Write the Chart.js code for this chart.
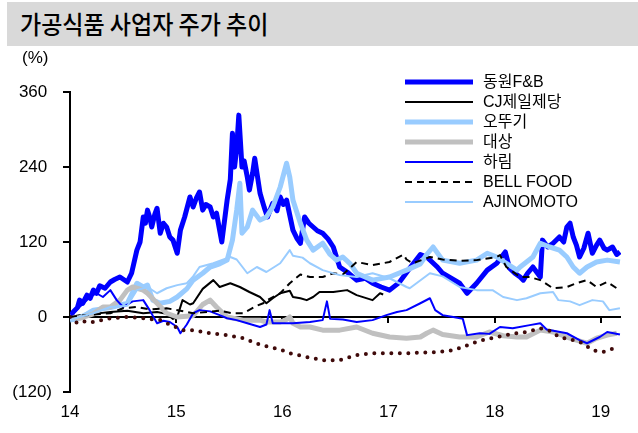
<!DOCTYPE html>
<html><head><meta charset="utf-8">
<script src="https://cdn.jsdelivr.net/npm/chart.js@4.4.1/dist/chart.umd.min.js"></script>
<style>
html,body{margin:0;padding:0;background:#fff;width:638px;height:433px;overflow:hidden;position:relative;font-family:'Liberation Sans',Arial,sans-serif;}
#c{position:absolute;left:0;top:0;}
#title{position:absolute;left:7px;top:2px;width:631px;height:44px;background:#d9d9d9;}
#title span{position:absolute;left:13px;top:5px;font-size:25px;font-weight:500;font-family:'Noto Sans CJK KR';color:#000;white-space:nowrap;line-height:32px;transform:scaleX(0.92);transform-origin:0 50%;}
#unit{position:absolute;left:22px;top:48px;font-size:17px;font-family:'Liberation Sans';color:#000;}
#legend{position:absolute;left:405px;top:72px;}
.row{height:20px;display:flex;align-items:center;}
.row svg{width:68px;height:8px;margin-right:10px;display:block;}
.row span{font-size:16px;font-family:'Liberation Sans','Noto Sans CJK KR';color:#000;white-space:nowrap;line-height:20px;}
</style></head>
<body>
<canvas id="c" width="638" height="433"></canvas>
<div id="title"><span>가공식품 사업자 주가 추이</span></div>
<div id="unit">(%)</div>
<div id="legend"></div>
<script>
// ---- data (x = year, 14 = 2014) ----
const xTickValues = [14, 15, 16, 17, 18, 19];
const yTickValues = [-120, 0, 120, 240, 360];

const dwYears = [14.00,14.03,14.07,14.09,14.12,14.16,14.19,14.22,14.25,14.28,14.33,14.38,14.42,14.47,14.54,14.58,14.63,14.66,14.69,14.71,14.73,14.75,14.77,14.80,14.82,14.85,14.88,14.91,14.94,14.97,15.01,15.04,15.08,15.13,15.16,15.19,15.22,15.25,15.28,15.32,15.35,15.38,15.43,15.48,15.51,15.53,15.55,15.57,15.59,15.62,15.64,15.67,15.69,15.72,15.74,15.79,15.83,15.86,15.91,15.95,15.98,16.01,16.04,16.10,16.14,16.17,16.21,16.25,16.29,16.33,16.38,16.43,16.48,16.54,16.61,16.70,16.78,16.85,16.93,17.01,17.10,17.20,17.30,17.36,17.41,17.46,17.51,17.59,17.67,17.74,17.83,17.93,18.02,18.10,18.14,18.19,18.24,18.27,18.31,18.36,18.43,18.45,18.50,18.55,18.61,18.65,18.68,18.71,18.74,18.77,18.80,18.84,18.88,18.92,18.96,18.99,19.03,19.06,19.11,19.15,19.18];
const dwVals  = [0,8,15,27,22,35,30,43,38,50,46,56,60,64,56,70,107,120,160,150,171,160,144,165,174,134,150,144,128,123,102,139,160,192,176,190,200,171,180,176,160,166,120,187,220,294,240,270,323,240,250,224,203,230,254,198,175,160,182,170,192,180,187,139,125,118,160,150,144,138,134,125,112,80,72,59,62,54,48,43,55,78,100,96,88,80,70,62,54,38,54,75,86,104,78,70,64,59,70,80,64,123,112,118,128,120,144,150,128,115,96,110,134,102,115,123,110,107,112,100,104];

const cjYears = [14.00,14.09,14.22,14.38,14.54,14.69,14.82,14.91,14.97,15.01,15.06,15.13,15.16,15.25,15.35,15.41,15.51,15.60,15.69,15.79,15.85,15.91,15.98,16.07,16.10,16.17,16.23,16.29,16.35,16.48,16.61,16.70,16.85,16.92,16.95];
const cjVals  = [0,3,5,8,10,6,8,5,-3,0,27,20,22,45,59,48,54,48,40,32,22,30,38,42,32,30,27,32,40,40,43,35,27,38,36];

const otYears = [14.00,14.07,14.16,14.22,14.38,14.54,14.63,14.69,14.73,14.78,14.85,14.94,15.01,15.10,15.16,15.25,15.32,15.41,15.48,15.53,15.57,15.60,15.62,15.67,15.72,15.79,15.85,15.91,15.98,16.04,16.07,16.10,16.17,16.23,16.29,16.38,16.45,16.51,16.57,16.64,16.70,16.85,17.01,17.17,17.30,17.36,17.42,17.51,17.67,17.83,17.93,18.02,18.11,18.21,18.24,18.30,18.36,18.43,18.52,18.61,18.68,18.74,18.80,18.87,18.96,19.06,19.18];
const otVals  = [-5,-3,5,11,15,22,54,48,51,27,22,25,32,45,59,70,80,85,91,123,171,214,134,144,171,155,160,176,208,246,224,187,150,123,107,118,100,91,96,85,70,59,64,75,85,100,112,91,86,91,102,96,86,75,80,88,96,118,112,107,96,80,70,80,88,91,88];

const dsYears = [14.00,14.09,14.22,14.31,14.38,14.47,14.54,14.59,14.69,14.73,14.82,14.91,15.01,15.16,15.25,15.32,15.38,15.48,15.63,15.79,15.85,15.98,16.04,16.07,16.10,16.17,16.26,16.38,16.54,16.70,16.85,17.01,17.17,17.30,17.36,17.42,17.51,17.67,17.83,17.95,18.08,18.21,18.30,18.43,18.55,18.68,18.77,18.87,18.96,19.06,19.15];
const dsVals  = [0,-2,5,16,16,27,43,48,43,38,22,6,0,2,20,27,16,0,-5,-5,-8,-8,-4,0,-10,-16,-16,-21,-21,-16,-26,-32,-34,-32,-26,-21,-28,-32,-32,-24,-30,-32,-32,-21,-24,-32,-37,-42,-34,-29,-26];

const hrYears = [14.00,14.03,14.09,14.19,14.25,14.31,14.38,14.44,14.50,14.59,14.69,14.75,14.82,14.88,14.94,15.01,15.04,15.10,15.16,15.22,15.32,15.41,15.48,15.57,15.67,15.79,15.85,15.88,15.91,16.10,16.26,16.38,16.42,16.45,16.57,16.70,16.85,16.98,17.08,17.17,17.30,17.39,17.44,17.51,17.61,17.70,17.74,17.86,17.95,18.05,18.17,18.33,18.43,18.49,18.68,18.80,18.87,18.99,19.06,19.18];
const hrVals  = [0,6,16,32,38,32,43,27,16,25,27,11,-10,-6,-8,-16,-26,-12,6,11,9,3,-2,-5,-10,-16,-12,11,-10,-10,-8,-5,25,-3,-4,-8,-5,3,8,11,22,30,11,3,0,-3,-29,-26,-27,-16,-18,-13,-10,-20,-26,-37,-42,-32,-24,-28];

const bfYears = [14.00,14.09,14.22,14.38,14.50,14.63,14.75,14.91,15.04,15.16,15.29,15.41,15.53,15.63,15.76,15.82,15.86,15.98,16.07,16.17,16.26,16.38,16.48,16.57,16.70,16.85,17.01,17.14,17.17,17.23,17.39,17.51,17.67,17.83,18.02,18.05,18.11,18.24,18.33,18.43,18.55,18.68,18.77,18.87,18.96,19.06,19.15];
const bfVals  = [0,2,4,6,14,16,12,14,10,6,8,10,6,6,18,22,27,38,54,68,64,64,70,68,88,83,88,100,92,86,96,92,90,91,96,99,80,64,64,59,46,48,54,59,48,56,46];

const ajYears = [14.00,14.09,14.22,14.38,14.54,14.63,14.73,14.82,14.91,15.01,15.10,15.16,15.22,15.35,15.51,15.57,15.67,15.76,15.85,15.98,16.07,16.10,16.19,16.26,16.38,16.54,16.70,16.85,17.01,17.17,17.20,17.39,17.51,17.67,17.83,17.98,18.08,18.21,18.30,18.43,18.55,18.60,18.71,18.80,18.92,19.02,19.08,19.18];
const ajVals  = [-5,0,6,16,18,43,48,38,46,51,54,65,80,86,96,92,70,80,72,86,107,98,95,86,75,67,64,70,62,48,46,70,65,48,43,43,32,27,30,38,40,27,25,19,27,25,11,14];

const brYears = [14.00,14.07,14.16,14.22,14.38,14.54,14.69,14.85,14.94,15.06,15.16,15.32,15.48,15.63,15.80,15.98,16.07,16.23,16.38,16.54,16.70,16.85,17.01,17.17,17.32,17.48,17.61,17.70,17.79,17.89,18.02,18.11,18.21,18.30,18.43,18.52,18.61,18.74,18.83,18.92,19.02,19.08,19.15];
const brVals  = [0,-10,-6,-8,-2,0,-2,-5,-12,-21,-21,-26,-29,-34,-45,-52,-58,-64,-69,-69,-61,-58,-58,-58,-57,-56,-53,-48,-42,-37,-32,-29,-26,-24,-18,-22,-32,-37,-42,-53,-56,-53,-48];

const seriesNames = ['동원F&B','CJ제일제당','오뚜기','대상','하림','BELL FOOD','AJINOMOTO'];

// ---- chart ----
const pts = (xs, ys) => xs.map((x, i) => ({x: x, y: ys[i]})).filter(p => p.y !== undefined);

const datasets = [
  {label: seriesNames[0], data: pts(dwYears, dwVals), borderColor: '#0000ff', borderWidth: 5, order: 7},
  {label: seriesNames[1], data: pts(cjYears, cjVals), borderColor: '#000000', borderWidth: 2, order: 6},
  {label: seriesNames[2], data: pts(otYears, otVals), borderColor: '#99ccff', borderWidth: 5, order: 5},
  {label: seriesNames[3], data: pts(dsYears, dsVals), borderColor: '#c0c0c0', borderWidth: 5, order: 4},
  {label: seriesNames[4], data: pts(hrYears, hrVals), borderColor: '#0000ff', borderWidth: 2, order: 3},
  {label: seriesNames[5], data: pts(bfYears, bfVals), borderColor: '#000000', borderWidth: 2, borderDash: [7, 5], order: 2},
  {label: seriesNames[6], data: pts(ajYears, ajVals), borderColor: '#99ccff', borderWidth: 2, order: 1},
  {label: '', data: pts(brYears, brVals), borderColor: '#3f0a0a', borderWidth: 4, borderDash: [0, 8.5], borderCapStyle: 'round', order: 0, hideInLegend: true}
];
datasets.forEach(d => { d.pointRadius = 0; d.fill = false; d.tension = 0; d.borderJoinStyle = 'round'; });

const zeroLine = {
  id: 'zeroLine',
  beforeDatasetsDraw(chart) {
    const {ctx, chartArea, scales} = chart;
    const y0 = Math.round(scales.y.getPixelForValue(0));
    ctx.save();
    ctx.strokeStyle = '#000';
    ctx.lineWidth = 2;
    ctx.beginPath();
    ctx.moveTo(chartArea.left, y0);
    ctx.lineTo(chartArea.right, y0);
    xTickValues.forEach(v => {
      const px = Math.round(scales.x.getPixelForValue(v));
      ctx.moveTo(px, y0);
      ctx.lineTo(px, y0 + 6);
    });
    ctx.stroke();
    ctx.restore();
  }
};

const chart = new Chart(document.getElementById('c'), {
  type: 'line',
  data: {datasets: datasets},
  options: {
    responsive: false,
    animation: false,
    events: [],
    layout: {padding: {left: 0, top: 92, right: 17, bottom: 0}},
    plugins: {legend: {display: false}, tooltip: {enabled: false}},
    scales: {
      x: {
        type: 'linear', min: 14, max: 19.19,
        afterBuildTicks: s => { s.ticks = xTickValues.map(v => ({value: v})); },
        afterFit: s => { s.height = 41; s.paddingLeft = 0; s.paddingRight = 0; },
        border: {display: false},
        grid: {display: false, drawTicks: false},
        ticks: {color: '#000', font: {family: 'Liberation Sans', size: 17}, padding: 10, maxRotation: 0, autoSkip: false,
                callback: v => String(v)}
      },
      y: {
        min: -120, max: 360,
        afterBuildTicks: s => { s.ticks = yTickValues.map(v => ({value: v})); },
        afterFit: s => { s.width = 70; s.paddingTop = 0; s.paddingBottom = 0; },
        border: {display: true, color: '#000', width: 2},
        grid: {display: true, drawOnChartArea: false, drawTicks: true, tickLength: 7, color: '#000', lineWidth: 2},
        ticks: {color: '#000', font: {family: 'Liberation Sans', size: 17}, padding: 11,
                callback: v => v < 0 ? '(' + (-v) + ')' : v + ' '}
      }
    }
  },
  plugins: [zeroLine]
});

// ---- HTML legend built from datasets ----
const legend = document.getElementById('legend');
datasets.filter(d => !d.hideInLegend).forEach(d => {
  const row = document.createElement('div');
  row.className = 'row';
  const dash = d.borderDash ? `stroke-dasharray="${d.borderDash.join(' ')}"` : '';
  row.innerHTML = `<svg viewBox="0 0 68 8"><line x1="0" y1="4" x2="68" y2="4" stroke="${d.borderColor}" stroke-width="${d.borderWidth}" ${dash}/></svg><span></span>`;
  row.querySelector('span').textContent = d.label;
  legend.appendChild(row);
});
</script>
</body></html>
